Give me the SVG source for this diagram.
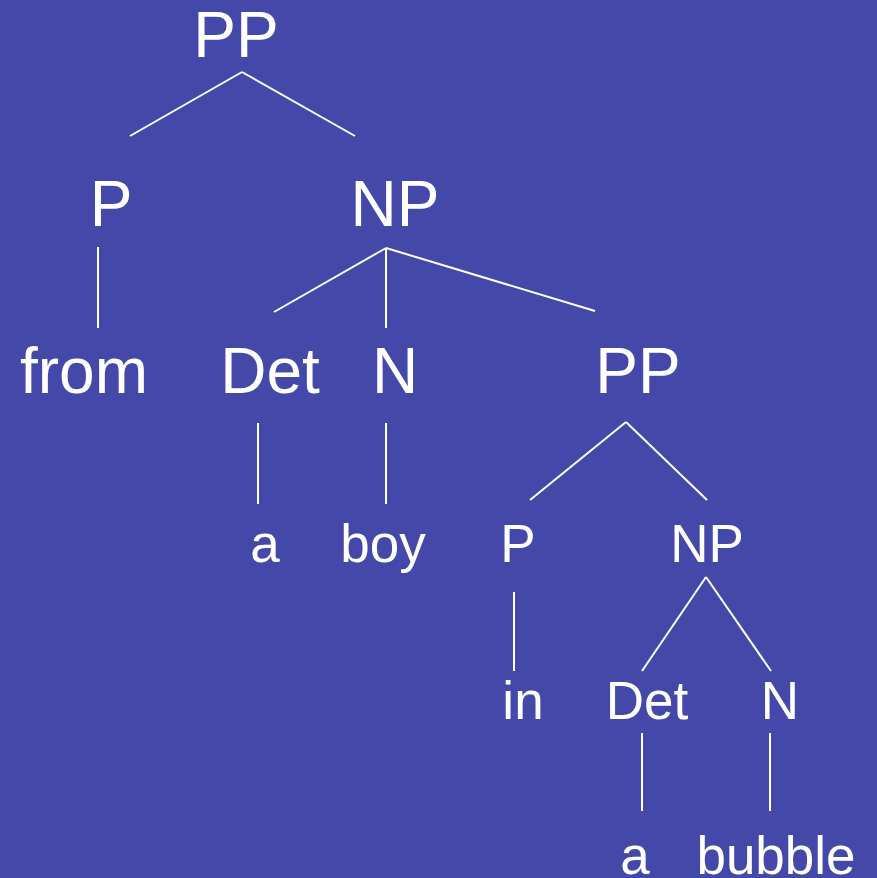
<svg xmlns="http://www.w3.org/2000/svg" width="877" height="878" viewBox="0 0 877 878">
<style>
text{font-family:"Liberation Sans",Arial,sans-serif;fill:#fff;text-anchor:middle}
.l{font-size:64px}
.s{font-size:53px}
#edges line{stroke:#fff;stroke-width:2}
</style>
<rect width="877" height="878" fill="#4449A9"/>
<g id="edges">
<line x1="242" y1="72" x2="130" y2="136"/>
<line x1="242" y1="72" x2="355" y2="136"/>
<line x1="98" y1="247" x2="98" y2="328"/>
<line x1="386" y1="248" x2="274" y2="312"/>
<line x1="386" y1="248" x2="386" y2="328"/>
<line x1="386" y1="248" x2="595" y2="311"/>
<line x1="258" y1="423" x2="258" y2="504"/>
<line x1="386" y1="423" x2="386" y2="504"/>
<line x1="626" y1="422" x2="530" y2="500"/>
<line x1="626" y1="422" x2="707" y2="500"/>
<line x1="514" y1="592" x2="514" y2="671"/>
<line x1="706" y1="577" x2="642" y2="671"/>
<line x1="706" y1="577" x2="771" y2="671"/>
<line x1="642" y1="733" x2="642" y2="811"/>
<line x1="770" y1="733" x2="770" y2="811"/>
</g>
<g id="n-pp1"><text class="l" x="236" y="57">PP</text></g>
<g id="n-p1"><text class="l" x="111" y="226">P</text></g>
<g id="n-np1"><text class="l" x="395" y="226">NP</text></g>
<g id="n-from"><text class="l" x="84" y="393">from</text></g>
<g id="n-det1"><text class="l" x="270" y="393">Det</text></g>
<g id="n-n1"><text class="l" x="395" y="393">N</text></g>
<g id="n-pp2"><text class="l" x="638" y="393">PP</text></g>
<g id="n-a1"><text class="s" x="265" y="562">a</text></g>
<g id="n-boy"><text class="s" x="383" y="562">boy</text></g>
<g id="n-p2"><text class="s" x="518" y="562">P</text></g>
<g id="n-np2"><text class="s" x="707" y="562">NP</text></g>
<g id="n-in"><text class="s" x="523" y="719">in</text></g>
<g id="n-det2"><text class="s" x="647" y="719">Det</text></g>
<g id="n-n2"><text class="s" x="780" y="719">N</text></g>
<g id="n-a2"><text class="s" x="635" y="874">a</text></g>
<g id="n-bubble"><text class="s" x="776" y="874">bubble</text></g>
</svg>
